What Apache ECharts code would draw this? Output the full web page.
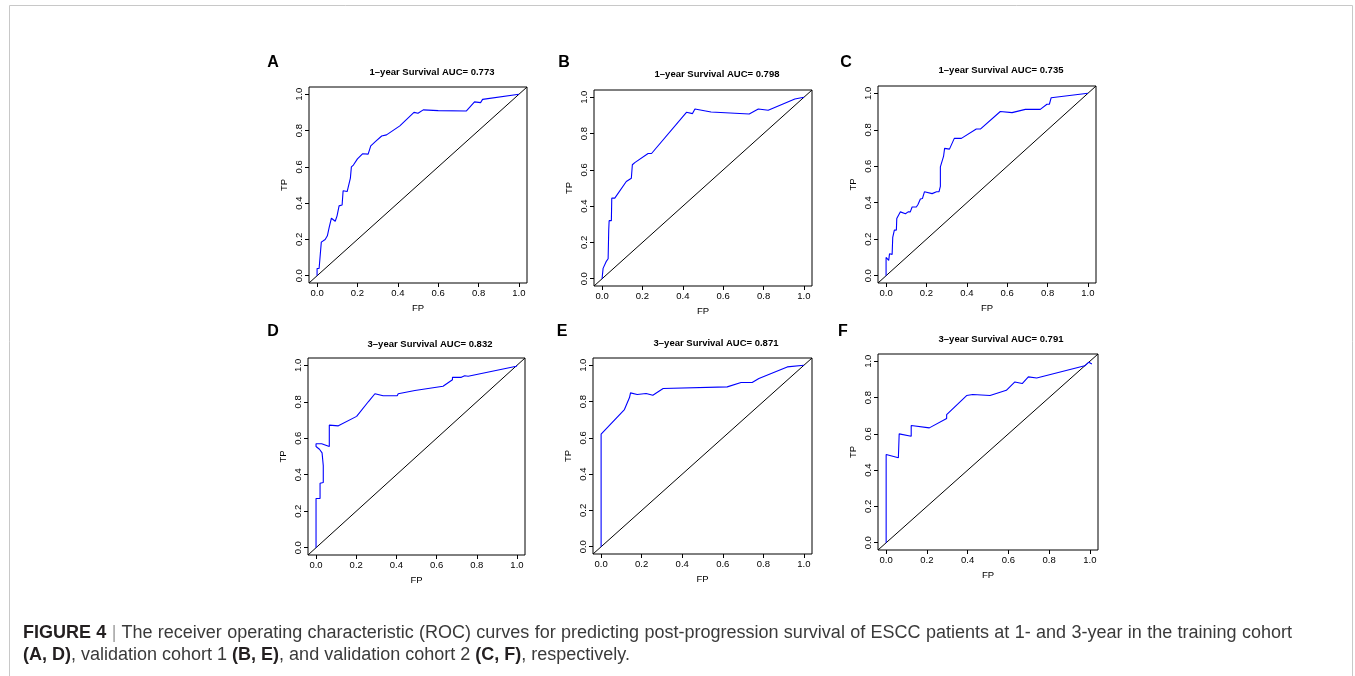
<!DOCTYPE html>
<html>
<head>
<meta charset="utf-8">
<script src="https://cdn.jsdelivr.net/npm/echarts@6.0.0/dist/echarts.min.js"></script>
<style>
  html, body { margin: 0; padding: 0; background: #fff; }
  #wrap { position: relative; width: 1355px; height: 676px; overflow: hidden; }
  #main { position: absolute; left: 0; top: 0; width: 1355px; height: 676px; }
  #caption {
    position: absolute; left: 23px; top: 621px; width: 1269px;
    font-family: "Liberation Sans", Arial, Helvetica, sans-serif;
    font-size: 18px; line-height: 22px; color: #3a3a3a;
  }
  #caption .l1 { display: block; text-align: justify; text-align-last: justify; white-space: nowrap; }
  #caption b { color: #231f20; }
  #caption .bar { color: #a0a0a0; }
</style>
</head>
<body>
<div id="wrap">
<div id="main"></div>
<div id="caption"><span class="l1"><b>FIGURE 4</b> <span class="bar">|</span> The receiver operating characteristic (ROC) curves for predicting post-progression survival of ESCC patients at 1- and 3-year in the training cohort</span><b>(A, D)</b>, validation cohort 1 <b>(B, E)</b>, and validation cohort 2 <b>(C, F)</b>, respectively.</div>
</div>
<script>
// ROC curves, [FP, TP]
const rocA = [[0,0],[0,0.04],[0.01,0.04],[0.018,0.05],[0.021,0.185],[0.03,0.185],[0.04,0.2],[0.051,0.22],[0.06,0.266],[0.071,0.317],[0.09,0.3],[0.099,0.33],[0.109,0.385],[0.124,0.39],[0.129,0.468],[0.149,0.464],[0.165,0.538],[0.17,0.6],[0.18,0.61],[0.2,0.644],[0.225,0.672],[0.253,0.67],[0.266,0.716],[0.29,0.74],[0.32,0.77],[0.344,0.776],[0.41,0.826],[0.48,0.9],[0.5,0.895],[0.526,0.914],[0.6,0.91],[0.74,0.908],[0.78,0.958],[0.81,0.954],[0.82,0.972],[1,1]];
const rocB = [[0,0],[0.005,0.057],[0.02,0.094],[0.03,0.11],[0.033,0.27],[0.035,0.32],[0.046,0.32],[0.048,0.444],[0.063,0.444],[0.12,0.536],[0.145,0.554],[0.15,0.628],[0.162,0.64],[0.228,0.69],[0.245,0.69],[0.418,0.917],[0.448,0.91],[0.46,0.935],[0.54,0.919],[0.729,0.908],[0.774,0.935],[0.823,0.928],[0.955,0.99],[1,1]];
const rocC = [[0,0],[0,0.1],[0.013,0.084],[0.017,0.12],[0.03,0.117],[0.033,0.21],[0.041,0.25],[0.051,0.25],[0.053,0.313],[0.071,0.35],[0.096,0.34],[0.109,0.35],[0.12,0.35],[0.129,0.377],[0.15,0.377],[0.158,0.39],[0.17,0.42],[0.18,0.423],[0.19,0.46],[0.228,0.45],[0.25,0.46],[0.262,0.46],[0.269,0.49],[0.269,0.597],[0.285,0.656],[0.29,0.698],[0.314,0.694],[0.338,0.753],[0.373,0.753],[0.447,0.804],[0.467,0.804],[0.566,0.9],[0.624,0.894],[0.69,0.912],[0.764,0.912],[0.797,0.94],[0.809,0.94],[0.818,0.976],[1,1]];
const rocD = [[0,0],[0,0.27],[0.02,0.27],[0.02,0.353],[0.036,0.357],[0.036,0.45],[0.03,0.454],[0.03,0.52],[0.017,0.54],[0,0.555],[0,0.57],[0.028,0.57],[0.066,0.555],[0.066,0.672],[0.111,0.668],[0.202,0.72],[0.26,0.8],[0.293,0.844],[0.334,0.833],[0.404,0.833],[0.409,0.844],[0.492,0.862],[0.632,0.885],[0.679,0.921],[0.679,0.934],[0.723,0.934],[0.74,0.943],[0.757,0.94],[0.997,0.995],[1,1]];
const rocE = [[0,0],[0,0.62],[0.115,0.756],[0.14,0.822],[0.145,0.848],[0.178,0.839],[0.222,0.844],[0.255,0.835],[0.306,0.872],[0.622,0.881],[0.69,0.905],[0.745,0.905],[0.778,0.927],[0.918,0.991],[1,1]];
const rocF = [[0,0],[0,0.486],[0.06,0.468],[0.064,0.6],[0.123,0.587],[0.123,0.646],[0.212,0.633],[0.297,0.684],[0.297,0.706],[0.395,0.811],[0.425,0.817],[0.51,0.811],[0.59,0.84],[0.632,0.886],[0.668,0.877],[0.698,0.914],[0.739,0.908],[0.975,0.975],[0.995,0.995],[1.01,0.985]];
const diag = [[-0.04,-0.04],[1.04,1.04]];
const ticks = [0, 0.2, 0.4, 0.6, 0.8, 1.0];
const letters = ['A', 'B', 'C', 'D', 'E', 'F'];
const titles = ['1–year Survival AUC= 0.773', '1–year Survival AUC= 0.798', '1–year Survival AUC= 0.735',
                '3–year Survival AUC= 0.832', '3–year Survival AUC= 0.871', '3–year Survival AUC= 0.791'];
const curves = [rocA, rocB, rocC, rocD, rocE, rocF];

// layout: plot box [left, top, width, height], title centre, letter centre
const boxes = [[309,87,218,196],[594,90,218,196],[878,86,218,197],[308,358,217,197],[593,358,219,196],[878,354,220,196]];
const titlePos = [[432,72],[717,74],[1001,70],[430,344],[716,343],[1001,339]];
const letterPos = [[273,63],[564,63],[846,63],[273,332],[562,332],[843,332]];

const FONT = '"Liberation Sans", Arial, Helvetica, sans-serif';

const chart = echarts.init(document.getElementById('main'), null, { renderer: 'canvas' });

const grid = [], xAxis = [], yAxis = [], series = [], graphic = [];

boxes.forEach(function (b, i) {
    grid.push({
        left: b[0], top: b[1], width: b[2], height: b[3],
        show: true, borderColor: '#000', borderWidth: 1, backgroundColor: 'transparent'
    });
    const axisCommon = {
        type: 'value', gridIndex: i, min: -0.04, max: 1.04,
        splitLine: { show: false },
        axisLine: { show: false, onZero: false },
        axisTick: { show: true, inside: false, length: 4, customValues: ticks, lineStyle: { color: '#000', width: 1 } },
        nameLocation: 'middle',
        nameTextStyle: { fontFamily: FONT, fontSize: 9.5, color: '#000' }
    };
    xAxis.push(Object.assign({}, axisCommon, {
        name: 'FP', nameGap: 20,
        axisLabel: { customValues: ticks, margin: 5, fontFamily: FONT, fontSize: 9.5, color: '#000',
            formatter: function (v) { return v.toFixed(1); } }
    }));
    yAxis.push(Object.assign({}, axisCommon, {
        name: 'TP', nameGap: 20,
        axisLabel: { customValues: ticks, margin: 5, rotate: 90, fontFamily: FONT, fontSize: 9.5, color: '#000',
            formatter: function (v) { return v.toFixed(1); } }
    }));
    series.push({
        type: 'line', xAxisIndex: i, yAxisIndex: i, data: diag, symbol: 'none', silent: true,
        lineStyle: { color: '#000', width: 1 }
    });
    series.push({
        type: 'line', xAxisIndex: i, yAxisIndex: i, data: curves[i], symbol: 'none',
        lineStyle: { color: '#0000ff', width: 1.1 }
    });
    graphic.push({
        type: 'text', x: titlePos[i][0], y: titlePos[i][1],
        style: { text: titles[i], font: 'bold 9.5px ' + FONT, fill: '#000', align: 'center', verticalAlign: 'middle' }
    });
    graphic.push({
        type: 'text', x: letterPos[i][0], y: letterPos[i][1],
        style: { text: letters[i], font: 'bold 16px ' + FONT, fill: '#000', align: 'center', verticalAlign: 'middle' }
    });
});

// figure frame
graphic.push({
    type: 'rect', shape: { x: 9.5, y: 5.5, width: 1343, height: 700 },
    style: { fill: 'none', stroke: '#c8c8c8', lineWidth: 1 }, silent: true
});

chart.setOption({
    animation: false,
    backgroundColor: '#fff',
    grid: grid,
    xAxis: xAxis,
    yAxis: yAxis,
    series: series,
    graphic: graphic
});
</script>
</body>
</html>
